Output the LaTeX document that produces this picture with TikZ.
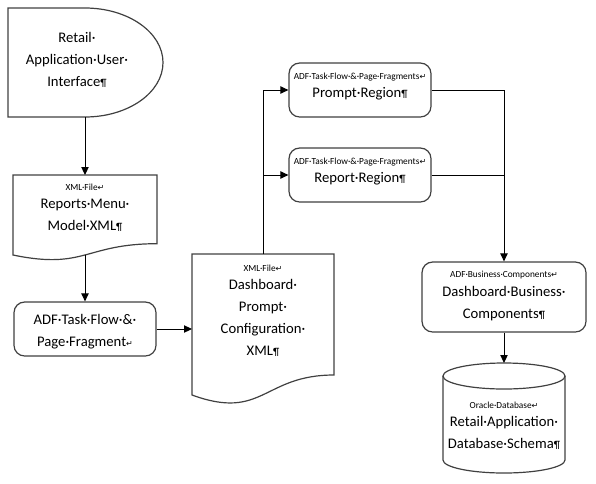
\documentclass[tikz,border=0pt]{standalone}
\usepackage{fontspec}
\setmainfont{Carlito}
\newfontfamily\symfont{DejaVu Sans}
\usetikzlibrary{arrows.meta}

% formatting marks as they show on screen
\newcommand{\pilc}{{\fontsize{8}{8}\selectfont ¶}}
\newcommand{\lbr}{{\symfont\fontsize{6}{6}\selectfont ↵}}
\newcommand{\tagline}[1]{{\fontsize{7}{8}\selectfont #1\lbr}}

\tikzset{
  flow/.style={-{Triangle[length=6pt,width=5.5pt]}, line width=0.75pt},
  link/.style={line width=0.75pt},
  shapeline/.style={draw=black!75, line width=0.9pt},
  roundbox/.style={shapeline, rounded corners=8pt, fill=white, inner sep=0pt},
  label/.style={align=center, font=\fontsize{11}{16.5}\selectfont, inner sep=0pt},
}

\begin{document}
\begin{tikzpicture}[x=0.75pt, y=-0.75pt]
    \useasboundingbox (0,0) rectangle (596,483);

    % Retail application user interface (delay shape)
    \draw[shapeline] (8,8) -- (85,8) arc[start angle=-90, end angle=90, x radius=78, y radius=54.5] -- (8,117) -- cycle;
    \node[label] (ui) at (77,60) {Retail·\\Application·User·\\Interface\pilc};
    \coordinate (ui-s) at (85,117);

    % Reports menu model (document shape)
    \draw[shapeline] (13,175) -- (157,175) -- (157,243.7) .. controls (85,243.7) and (85,270) .. (13,255) -- cycle;
    \node[label] (menuxml) at (85,208) {\tagline{XML·File}\\[-3pt]Reports·Menu·\\Model·XML\pilc};
    \coordinate (menuxml-n) at (85,175);
    \coordinate (menuxml-s) at (85,255);

    % Task flow and page fragment
    \node[roundbox, minimum width=106.5pt, minimum height=40.5pt] (taskflow) at (85,329) {};
    \node[label] (taskflow-txt) at (85,332) {ADF·Task·Flow·\&·\\Page·Fragment\lbr};

    % Dashboard prompt configuration (document shape)
    \draw[shapeline] (192,254) -- (334,254) -- (334,375) .. controls (263,375) and (263,421) .. (192,395) -- cycle;
    \node[label] (promptxml) at (263,311) {\tagline{XML·File}\\[-3pt]Dashboard·\\Prompt·\\Configuration·\\XML\pilc};
    \coordinate (promptxml-n) at (263,254);
    \coordinate (promptxml-w) at (192,329);

    % Region fragments
    \node[roundbox, minimum width=106.5pt, minimum height=40.5pt] (promptreg) at (360,90) {};
    \node[label] (promptreg-txt) at (360,87) {\tagline{ADF·Task·Flow·\&·Page·Fragments}\\[-3pt]Prompt·Region\pilc};
    \node[roundbox, minimum width=106.5pt, minimum height=40.5pt] (reportreg) at (360,175) {};
    \node[label] (reportreg-txt) at (360,172) {\tagline{ADF·Task·Flow·\&·Page·Fragments}\\[-3pt]Report·Region\pilc};

    % Business components
    \node[roundbox, minimum width=123pt, minimum height=52.5pt] (dashbc) at (504,297) {};
    \node[label] (dashbc-txt) at (504,296) {\tagline{ADF·Business·Components}\\[-2pt]Dashboard·Business·\\Components\pilc};

    % Database (cylinder)
    \draw[shapeline] (443,376) -- (443,460) arc[start angle=180, end angle=0, x radius=61, y radius=13] -- (565,376);
    \draw[shapeline] (504,376) ellipse[x radius=61, y radius=13];
    \node[label] (db) at (504,426) {\tagline{Oracle·Database}\\[-3pt]Retail·Application·\\Database·Schema\pilc};
    \coordinate (db-n) at (504,363);

    % connectors
    \coordinate (split) at (promptxml-n |- reportreg.west);
    \coordinate (join) at (reportreg.east -| dashbc.north);
    \draw[flow] (ui-s) -- (menuxml-n);
    \draw[flow] (menuxml-s) -- (taskflow.north);
    \draw[flow] (taskflow.east) -- (promptxml-w);
    \draw[flow] (promptxml-n) |- (promptreg.west);
    \draw[flow] (split) -- (reportreg.west);
    \draw[flow] (promptreg.east) -| (dashbc.north);
    \draw[link] (reportreg.east) -- (join);
    \draw[flow] (dashbc.south) -- (db-n);
\end{tikzpicture}
\end{document}
